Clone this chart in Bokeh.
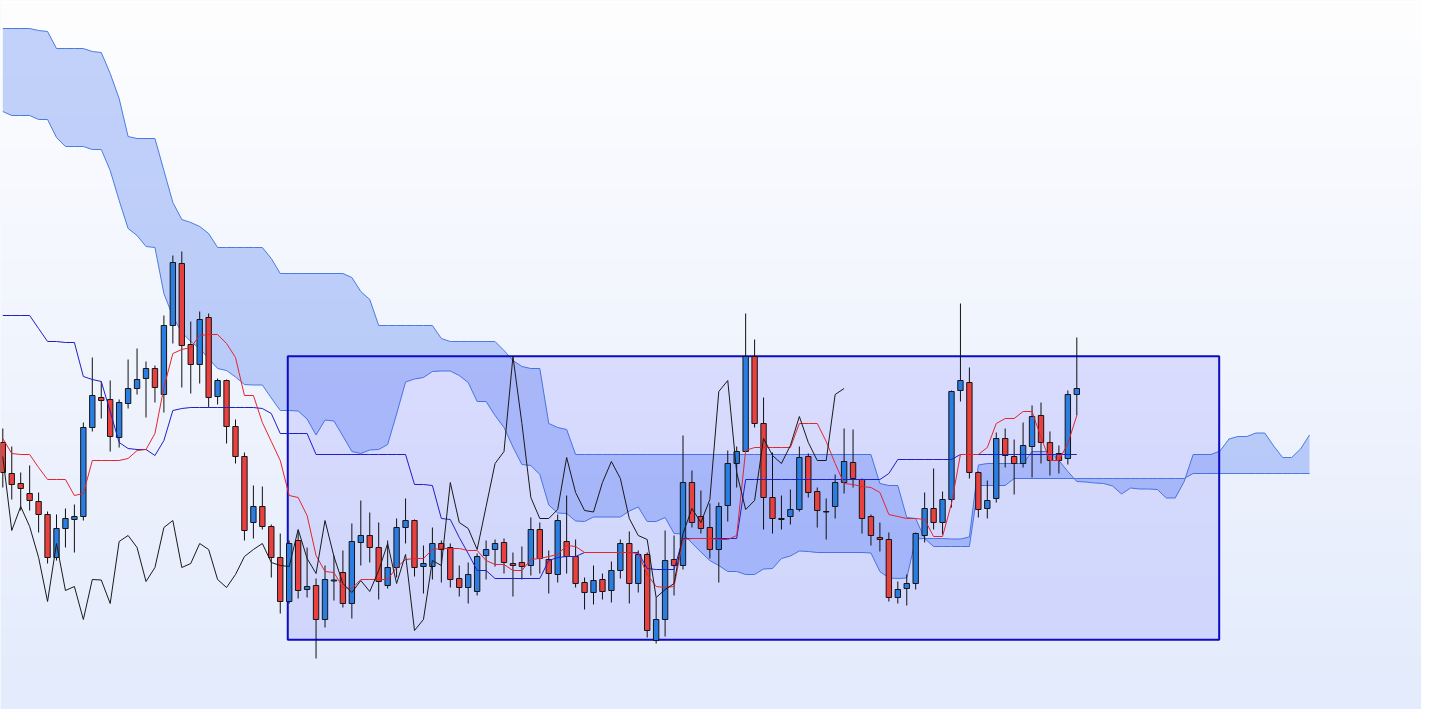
import numpy as np
from bokeh.plotting import figure
from bokeh.models import Range1d, ColumnDataSource
from bokeh.embed import file_html
from bokeh.resources import INLINE

# ---------------- data (price units) ----------------
opens = [283, 252, 242, 232, 224, 211, 168, 197, 206, 209,
         298, 328, 326, 288, 322, 337, 347, 357, 331, 400,
         462, 381, 361, 408, 329, 345, 299, 269, 203, 219,
         199, 168, 124, 185, 136, 140, 106, 144.5, 153, 122,
         183, 190, 178, 140, 158, 198, 205, 159, 159, 182,
         178, 147, 138, 134, 170, 176, 183, 162, 163, 160,
         196, 166, 151, 184, 169, 143, 133, 146, 135, 155,
         182, 142, 171, 85, 106, 166, 160, 243, 209, 198,
         176, 220, 262, 274, 369, 302, 228, 206, 209, 216,
         269, 234, 214, 219, 243, 263, 246, 209, 188, 186,
         128, 137, 142, 190, 217, 203, 226, 335, 343, 253,
         217, 227, 287, 269, 262, 279, 310, 283, 272, 267,
         331]
highs = [297, 279, 253, 260, 233, 214, 211, 217, 221, 303,
         368, 344, 345, 326, 366, 377, 364, 360, 410, 470,
         474, 404, 414, 412, 347, 346, 306, 273, 240, 239,
         201, 192, 185, 195, 178, 147, 160, 170, 175, 202,
         225, 213, 203, 185, 207, 227, 206, 180, 198, 185,
         182, 160, 163, 172, 185, 186, 187, 173, 179, 208,
         203, 175, 211, 230, 186, 148, 160, 152, 164, 186,
         194, 175, 173, 128, 195, 190, 290, 255, 235, 222,
         223, 275, 279, 412, 386, 328, 273, 230, 236, 279,
         272, 238, 227, 251, 297, 296, 247, 211, 203, 193,
         144, 151, 193, 233, 257, 234, 335, 422, 358, 254,
         245, 293, 297, 286, 303, 320, 323, 294, 280, 335,
         388]
lows = [238, 226, 215, 215, 193, 162, 165, 178, 173, 205,
        294, 307, 274, 278, 317, 331, 308, 323, 313, 382,
        338, 332, 342, 318, 321, 282, 262, 185, 187, 196,
        148, 112, 122, 127, 128, 67, 98, 125, 118, 107,
        160, 163, 126, 137, 148, 182, 149, 132, 146, 143,
        138, 129, 122, 130, 146, 159, 152, 129, 146, 150,
        152, 132, 143, 152, 138, 116, 121, 126, 123, 147,
        122, 133, 88, 82, 89, 130, 156, 198, 192, 167,
        143, 204, 238, 274, 298, 196, 192, 196, 201, 214,
        228, 198, 186, 207, 232, 238, 192, 180, 174, 124,
        122, 120, 136, 183, 196, 191, 218, 324, 247, 208,
        207, 223, 258, 231, 258, 248, 262, 250, 252, 261,
        310]
closes = [253, 241, 237, 225, 211, 168, 197, 207, 209, 298,
          330, 325, 289, 323, 337, 346, 357, 338, 400, 463,
          380, 361, 406, 328, 345, 299, 269, 195, 219, 199,
          168, 124, 182, 135, 139, 106, 146, 145.5, 122, 184,
          190, 178, 144, 158, 198, 205, 158, 162, 182, 176,
          146, 138, 151, 169, 176, 182, 163, 160, 159, 196,
          167, 152, 205, 169, 142, 133, 145, 134, 155, 182,
          142, 171, 95, 106, 165, 160, 243, 203, 197, 176,
          219, 262, 274, 369, 302, 228, 207, 207, 216, 268,
          233, 215, 213.5, 243, 264, 247, 207, 190, 186, 128,
          136, 142, 192, 217, 203, 226, 334, 345, 253, 216,
          225, 287, 270, 262, 280, 309, 283, 265, 265, 331,
          337]

tenkan = [287, 272, 271, 271, 258, 246, 246, 246, 230, 232,
          265, 265, 265, 265, 267, 275, 276, 292, 338, 372,
          376, 378, 390, 391, 391, 382, 368, 330, 330, 303,
          284, 265, 230, 228, 210, 170, 154, 153, 138, 137,
          146, 146, 146, 146, 158, 166, 167, 167, 176, 177,
          177, 177, 175, 175, 165, 161, 161, 155, 155, 166,
          167, 169, 171, 180, 179, 173, 173, 173, 173, 173,
          173, 172, 151, 139, 138, 139, 186, 187, 187, 187,
          186, 186, 190, 275, 278, 278, 278, 278, 278, 302,
          302, 302, 284, 262, 242, 241, 239, 238, 233, 211,
          209, 207, 207, 206, 189, 189, 222, 271, 271, 271,
          278, 302, 307, 307, 314, 314, 288, 265, 265, 282,
          310]
kijun = [410, 410, 410, 410, 397, 384, 384, 383, 383, 349,
         346, 344, 314, 283, 277, 276, 276, 270, 285, 315,
         317, 318, 318, 318, 318, 318, 318, 318, 318, 317,
         312, 292, 292, 292, 292, 271, 271, 271, 271, 271,
         271, 271, 271, 271, 271, 271, 241, 241, 240, 207,
         206, 188, 172, 155, 155, 147, 147, 147, 147, 147,
         147, 165, 168, 169, 169, 173, 173, 173, 173, 173,
         173, 173, 157, 156, 156, 156, 187, 187, 187, 187,
         187, 187, 187, 246, 246, 246, 246, 246, 246, 246,
         246, 246, 246, 246, 246, 246, 246, 246, 246, 252,
         266, 266, 266, 266, 266, 266, 266, 271, 271, 271,
         271, 271, 271, 271, 271, 271, 271, 271, 271, 271,
         271]
senkou_a = [614, 610, 610, 610, 606, 606, 588, 579, 579, 579,
            576, 576, 555, 525, 497, 490, 479, 478, 432, 409,
            393, 384, 377, 367, 357, 355, 348.5, 341, 340.5, 340.5,
            327.5, 315, 315, 314.5, 306.5, 290.5, 305.5, 304.5, 289.5, 274,
            272, 275.5, 276, 281, 311.5, 343.5, 346.5, 348, 354, 354.5,
            354.5, 350, 343, 324, 324, 310, 298, 278.5, 261, 260,
            251, 220.5, 212.5, 212, 204.5, 204, 208.5, 208.5, 208.5, 208.5,
            214.5, 218.5, 204, 204, 208, 192, 191.5, 182.5, 173.5, 165,
            160, 154, 154, 151, 151, 156.5, 157, 167, 169.5, 174.5,
            174, 173, 173, 173, 173, 173, 173, 172.5, 154, 147.5,
            147, 147.5, 186.5, 187, 187, 187, 186.5, 186.5, 188.5, 260.5,
            262, 262, 262, 262, 262, 274, 274, 274, 265, 254,
            244, 243.5, 242.5, 242, 239.5, 231.5, 237.5, 236.5, 236.5, 236,
            227.5, 227.5, 244, 271, 271, 271, 274.5, 286.5, 289, 289,
            292.5, 292.5, 279.5, 268, 268, 276.5, 290.5]
senkou_b = [697, 697, 697, 697, 695, 694, 677, 677, 677, 677,
            674, 673, 652, 627, 589, 587, 587, 587, 555, 523,
            506, 503, 499, 492, 478, 478, 478, 478, 478, 478,
            467, 452, 452, 452, 452, 452, 452, 452, 452, 448,
            434, 426, 400, 400, 400, 400, 400, 400, 400, 387,
            384, 384, 384, 384, 384, 384, 375, 365, 359, 357,
            357, 302, 298, 296, 271, 271, 271, 271, 271, 271,
            271, 271, 271, 271, 271, 271, 271, 271, 271, 271,
            271, 271, 271, 271, 271, 271, 271, 271, 271, 271,
            271, 271, 271, 271, 271, 271, 271, 271, 242, 240,
            240, 208, 207, 187, 179, 179, 179, 179, 179, 240,
            240, 240, 240, 247, 247, 247, 247, 247, 247, 247,
            247, 247, 247, 247, 247, 247, 247, 247, 247, 247,
            247, 247, 247, 252, 252, 252, 252, 252, 252, 252,
            252, 252, 252, 252, 252, 252, 252]
chikou_shift = 26

# highlighted range box (bar index / price)
box_left, box_right = 31.84, 135.91
box_top, box_bottom = 369.3, 85.7

# ---------------- figure ----------------
W, H = 1421, 709
BAR_PX = 8.95
X0 = -2.3 / BAR_PX
X1 = X0 + W / BAR_PX
Y1 = 725
Y0 = Y1 - H
p = figure(width=W, height=H, x_range=Range1d(X0, X1), y_range=Range1d(Y0, Y1),
           output_backend="svg", toolbar_location=None,
           x_axis_type=None, y_axis_type=None,
           min_border=0, min_border_left=0, min_border_right=0,
           min_border_top=0, min_border_bottom=0)
p.grid.visible = False
p.outline_line_color = None
p.background_fill_color = "#f2f6fe"
p.border_fill_color = None

# vertical background gradient
rows = 256
frac = np.linspace(0.0, 1.0, rows)[:, None]
bottom_rgb = np.array([227, 235, 252], dtype=float)
top_rgb = np.array([254, 254, 255], dtype=float)
rgb = bottom_rgb + (top_rgb - bottom_rgb) * frac
img = np.empty((rows, 1), dtype=np.uint32)
view = img.view(dtype=np.uint8).reshape((rows, 1, 4))
view[:, :, 0] = rgb[:, 0:1].astype(np.uint8)
view[:, :, 1] = rgb[:, 1:2].astype(np.uint8)
view[:, :, 2] = rgb[:, 2:3].astype(np.uint8)
view[:, :, 3] = 255
p.image_rgba(image=[img], x=X0, y=Y0, dw=X1 - X0, dh=Y1 - Y0)

idx = np.arange(len(opens))
cidx = np.arange(len(senkou_a))

# cloud
p.varea(x=cidx, y1=senkou_a, y2=senkou_b, fill_color="#3c6ef0", fill_alpha=0.30)
p.line(cidx, senkou_a, line_color="#4b7be0", line_width=1)
p.line(cidx, senkou_b, line_color="#4b7be0", line_width=1)

# range box
p.quad(left=[box_left], right=[box_right], top=[box_top], bottom=[box_bottom],
       fill_color="#3c3cff", fill_alpha=0.13, line_color="#0c0cc2", line_width=2)

# candles
o = np.array(opens, float); c = np.array(closes, float)
up = c >= o
src = ColumnDataSource(dict(x=idx, top=np.maximum(o, c), bottom=np.minimum(o, c),
                            high=highs, low=lows,
                            color=np.where(up, "#2a7de1", "#e8413f")))
p.segment(x0="x", y0="low", x1="x", y1="high", source=src, line_color="#111111", line_width=1)
p.vbar(x="x", width=0.6, top="top", bottom="bottom", source=src,
       fill_color="color", line_color="#151515", line_width=1)

# ichimoku lines
p.line(idx, kijun, line_color="#1f1fc8", line_width=1)
p.line(idx, tenkan, line_color="#e3262d", line_width=1)
p.line(idx[:len(closes) - chikou_shift], closes[chikou_shift:], line_color="#1a1a1a", line_width=1)

open("out.html", "w").write(file_html(p, INLINE))
